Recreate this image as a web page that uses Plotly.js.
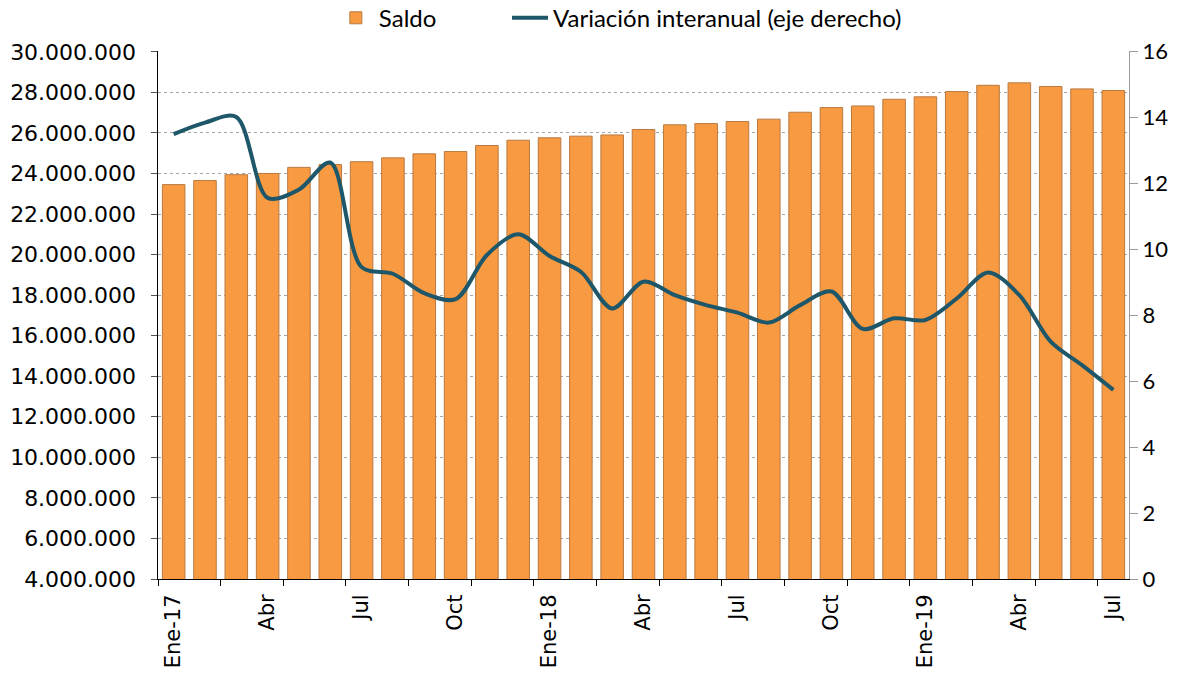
<!DOCTYPE html>
<html>
<head>
<meta charset="utf-8">
<script src="https://cdn.plot.ly/plotly-3.0.1.min.js"></script>
<style>html,body{margin:0;padding:0;background:#fff;}#chart{width:1193px;height:674px;}</style>
</head>
<body>
<div id="chart"></div>
<script>
const months = ['Ene-17','Feb-17','Mar-17','Abr-17','May-17','Jun-17','Jul-17','Ago-17','Sep-17','Oct-17','Nov-17','Dic-17',
                'Ene-18','Feb-18','Mar-18','Abr-18','May-18','Jun-18','Jul-18','Ago-18','Sep-18','Oct-18','Nov-18','Dic-18',
                'Ene-19','Feb-19','Mar-19','Abr-19','May-19','Jun-19','Jul-19'];
const saldo = [23450000,23650000,23940000,24000000,24300000,24440000,24580000,24770000,24970000,25080000,25380000,25640000,
               25760000,25840000,25900000,26170000,26400000,26460000,26560000,26680000,27020000,27250000,27330000,27660000,
               27780000,28040000,28350000,28470000,28290000,28170000,28090000];
const variacion = [13.48,13.83,14.0,11.55,11.8,12.62,9.45,9.25,8.66,8.48,9.82,10.45,
                   9.79,9.31,8.2,9.01,8.6,8.3,8.07,7.77,8.3,8.71,7.58,7.9,
                   7.85,8.5,9.29,8.6,7.19,6.48,5.73];
const tickLabels = ['Ene-17','Abr','Jul','Oct','Ene-18','Abr','Jul','Oct','Ene-19','Abr','Jul'];
const tickMonths = ['Ene-17','Abr-17','Jul-17','Oct-17','Ene-18','Abr-18','Jul-18','Oct-18','Ene-19','Abr-19','Jul-19'];

const xIdx = months.map((m, i) => i);
const tickIdx = tickMonths.map(m => months.indexOf(m));

const traces = [
  {
    type: 'bar', name: 'Saldo', x: xIdx, y: saldo, base: 0,
    marker: {color: '#F89A42', line: {color: '#B9793F', width: 1}},
    width: 0.72, yaxis: 'y', hoverinfo: 'y', legend: 'legend'
  },
  {
    type: 'scatter', mode: 'lines', name: 'Variación interanual (eje derecho)',
    x: xIdx, y: variacion, yaxis: 'y2', legend: 'legend2',
    line: {color: '#1E5769', width: 4, shape: 'spline', smoothing: 0.9}
  }
];

const legFont = {family: 'Lato, sans-serif', size: 24, color: '#000'};

const layout = {
  width: 1193, height: 674,
  margin: {l: 158, r: 64, t: 51, b: 95},
  paper_bgcolor: '#ffffff', plot_bgcolor: '#ffffff',
  separators: ',.',
  showlegend: true,
  legend: {
    orientation: 'h', xref: 'container', yref: 'container',
    x: 0.279, xanchor: 'left', y: 0.973, yanchor: 'middle',
    font: legFont, itemwidth: 36
  },
  legend2: {
    orientation: 'h', xref: 'container', yref: 'container',
    x: 0.425, xanchor: 'left', y: 0.973, yanchor: 'middle',
    font: legFont, itemwidth: 36
  },
  xaxis: {
    range: [-0.5, 30.5], tickmode: 'array', tickvals: tickIdx, ticktext: tickLabels,
    tickangle: -90, ticks: '', showgrid: false, zeroline: false,
    showline: true, linecolor: '#000', linewidth: 1,
    ticklabelstandoff: 6,
    tickfont: {family: 'DejaVu Sans, sans-serif', size: 21, color: '#000'},
    minor: {ticks: 'outside', tick0: -0.5, dtick: 2, ticklen: 6, tickcolor: '#000', showgrid: false}
  },
  yaxis: {
    range: [4000000, 30040000], dtick: 2000000, tick0: 0, tickformat: ',d',
    showline: true, linecolor: '#000', linewidth: 1.5,
    ticks: 'outside', ticklen: 6, tickcolor: '#555',
    ticklabelstandoff: 10,
    showgrid: true, gridcolor: '#a6a6a6', griddash: 'dot', gridwidth: 1,
    zeroline: false,
    tickfont: {family: 'DejaVu Sans, sans-serif', size: 22, color: '#000'}
  },
  yaxis2: {
    overlaying: 'y', side: 'right', range: [0, 16], dtick: 2,
    showline: true, linecolor: '#9a9a9a', linewidth: 1,
    ticks: 'outside', ticklen: 8, tickcolor: '#9a9a9a',
    showgrid: false, zeroline: false,
    tickfont: {family: 'Lato, sans-serif', size: 22, color: '#000'}
  },
  bargap: 0.28
};

Plotly.newPlot('chart', traces, layout, {displayModeBar: false, staticPlot: true});
</script>
</body>
</html>
